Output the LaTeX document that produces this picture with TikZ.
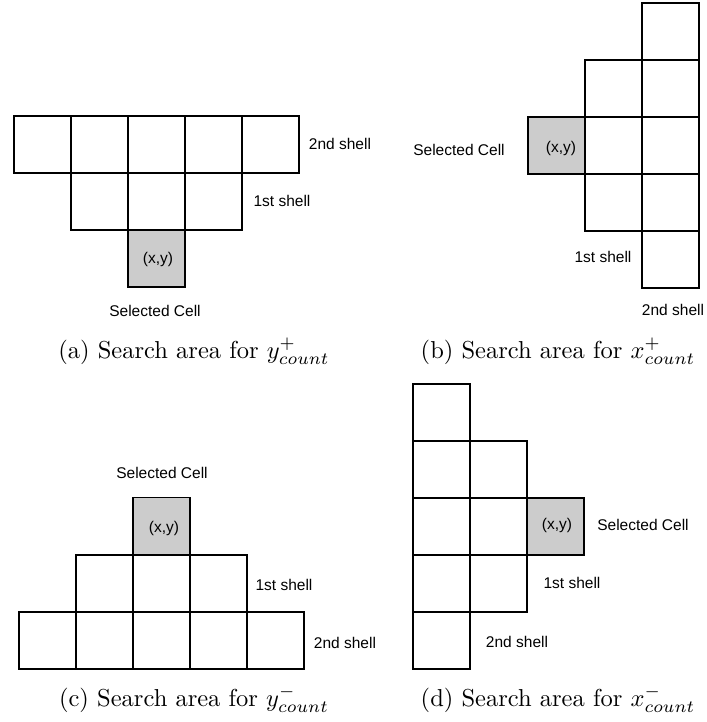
\documentclass[tikz,border=0pt]{standalone}
\usepackage{fontspec}
\newfontfamily\labelfont{Liberation Sans}
\definecolor{cellgray}{RGB}{204,204,204}
\tikzset{
  cell/.style={draw=black, line width=1.4pt, minimum width=57pt, minimum height=57pt,
               inner sep=0pt, outer sep=0pt, fill=white},
  selcell/.style={cell, fill=cellgray},
  lbl/.style={font=\labelfont\fontsize{15.5}{18}\selectfont, inner sep=0pt},
  captext/.style={scale=2.45, transform shape, inner sep=0pt}
}
\begin{document}
\begin{tikzpicture}[x=1pt, y=-1pt]
\useasboundingbox (0,0) rectangle (706,722);

% (a) search area for y+ : shells above the selected cell
\foreach \i in {0,...,4} \node[cell] (a2-\i) at (42.5+57*\i,144.5) {};
\foreach \i in {0,...,2} \node[cell] (a1-\i) at (99.5+57*\i,201.5) {};
\node[selcell] (a0) at (156.5,258.5) {};
\node[lbl] (a0t) at (158,259) {(x,y)};
\node[lbl] (a2t) at (340,144) {2nd shell};
\node[lbl] (a1t) at (282,201) {1st shell};
\node[lbl] (a0s) at (155,311) {Selected Cell};
\node[captext] (acap) at (194,351) {(a) Search area for $y^{+}_{count}$};

% (b) search area for x+ : shells to the right
\node[selcell] (b0) at (556.5,145.5) {};
\foreach \i in {0,...,2} \node[cell] (b1-\i) at (613.5,88.5+57*\i) {};
\foreach \i in {0,...,4} \node[cell] (b2-\i) at (670.5,31.5+57*\i) {};
\node[lbl] (b0t) at (561,148) {(x,y)};
\node[lbl] (b0s) at (459,150) {Selected Cell};
\node[lbl] (b1t) at (603,257) {1st shell};
\node[lbl] (b2t) at (673,310) {2nd shell};
\node[captext] (bcap) at (558,351) {(b) Search area for $x^{+}_{count}$};

% (c) search area for y- : shells below
\node[selcell] (c0) at (161.5,526) {};
\foreach \i in {0,...,2} \node[cell] (c1-\i) at (104.5+57*\i,583.5) {};
\foreach \i in {0,...,4} \node[cell] (c2-\i) at (47.5+57*\i,640.5) {};
\node[lbl] (c0t) at (164,528) {(x,y)};
\node[lbl] (c0s) at (162,473) {Selected Cell};
\node[lbl] (c1t) at (284,585) {1st shell};
\node[lbl] (c2t) at (345,643) {2nd shell};
\node[captext] (ccap) at (194,699) {(c) Search area for $y^{-}_{count}$};

% (d) search area for x- : shells to the left
\node[selcell] (d0) at (555.5,526.5) {};
\foreach \i in {0,...,2} \node[cell] (d1-\i) at (498.5,469.5+57*\i) {};
\foreach \i in {0,...,4} \node[cell] (d2-\i) at (441.5,412.5+57*\i) {};
\node[lbl] (d0t) at (557,525) {(x,y)};
\node[lbl] (d0s) at (643,525) {Selected Cell};
\node[lbl] (d1t) at (572,583) {1st shell};
\node[lbl] (d2t) at (517,642) {2nd shell};
\node[captext] (dcap) at (558,699) {(d) Search area for $x^{-}_{count}$};
\end{tikzpicture}
\end{document}
